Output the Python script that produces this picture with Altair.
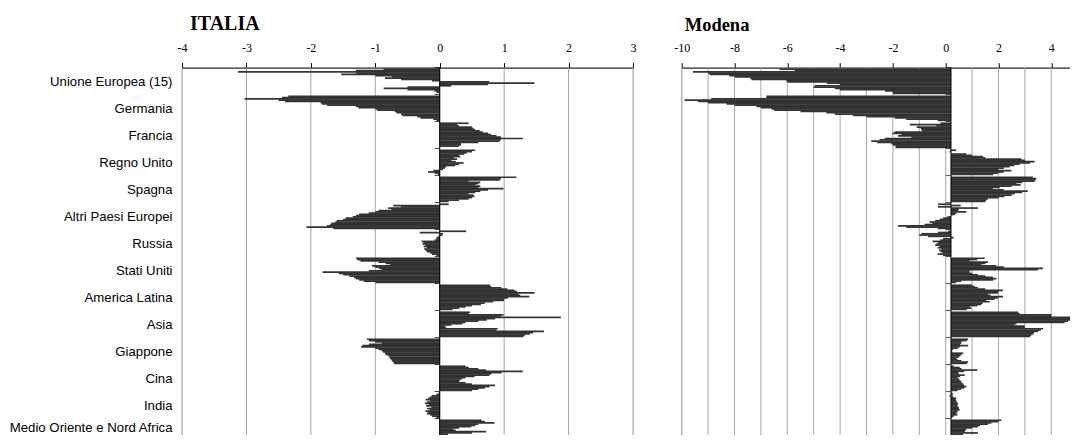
import altair as alt
import pandas as pd

categories = ["Unione Europea (15)", "Germania", "Francia", "Regno Unito", "Spagna",
              "Altri Paesi Europei", "Russia", "Stati Uniti", "America Latina", "Asia",
              "Giappone", "Cina", "India", "Medio Oriente e Nord Africa"]

# ITALIA
it_ue = [-0.87, -1.3, -3.13, -1.3, -1.53, -1.0, -0.74, -0.85, -0.6, -0.12, 0.77, 1.47, 0.75, 0.18, -0.5, -0.87, -0.5, -0.08, -0.05, 0.0]
it_de = [-2.35, -2.45, -3.03, -2.5, -2.4, -1.85, -1.83, -1.75, -1.3, -1.26, -1.0, -0.97, -0.7, -0.67, -0.6, -0.58, -0.35, -0.3, -0.1, -0.05]
it_fr = [0.45, 0.27, 0.3, 0.5, 0.52, 0.55, 0.62, 0.67, 0.75, 0.8, 0.88, 0.95, 1.29, 0.95, 0.93, 0.6, 0.33, 0.33, 0.3, 0.0]
it_uk = [0.55, 0.5, 0.42, 0.38, 0.3, 0.32, 0.22, 0.27, 0.18, 0.25, 0.37, 0.3, 0.24, 0.1, 0.08, 0.05, -0.1, -0.18, -0.08, -0.03]
it_es = [1.19, 0.95, 0.93, 0.45, 0.63, 0.6, 0.55, 0.63, 0.6, 0.99, 0.75, 0.63, 0.55, 0.45, 0.52, 0.54, 0.5, 0.45, 0.3, 0.14]
it_altri = [0.14, -0.72, -0.6, -0.8, -0.75, -0.95, -1.0, -1.1, -1.25, -1.3, -1.35, -1.46, -1.5, -1.6, -1.62, -1.68, -1.7, -1.75, -2.07, -1.65]
it_ru = [0.41, -0.31, 0.05, 0.04, -0.02, -0.05, -0.05, -0.08, -0.28, -0.25, -0.27, -0.22, -0.25, -0.2, -0.24, -0.22, -0.2, -0.15, -0.12, -0.05]
it_us = [-1.3, -1.28, -1.23, -0.95, -0.84, -0.77, -1.05, -1.0, -0.94, -0.9, -1.1, -1.82, -1.57, -1.5, -1.4, -1.33, -1.3, -1.25, -1.18, -1.0]
it_latam = [0.78, 0.8, 0.96, 1.05, 1.16, 1.2, 1.47, 1.22, 1.25, 1.39, 1.06, 1.0, 1.0, 0.83, 0.7, 0.64, 0.5, 0.4, 0.3, 0.2]
it_asia = [0.47, 0.45, 0.99, 0.95, 1.88, 0.86, 0.73, 0.6, 0.4, 0.35, 0.18, 0.08, 0.1, 0.9, 0.88, 1.62, 1.45, 1.4, 1.32, 1.3]
it_jp = [-1.13, -1.1, -1.0, -0.9, -1.1, -1.2, -1.22, -1.0, -0.95, -0.9, -0.88, -0.85, -0.84, -0.8, -0.78, -0.77, -0.75, -0.74, -0.72, -0.71]
it_cn = [0.4, 0.45, 0.6, 0.72, 1.29, 0.96, 0.8, 0.77, 0.54, 0.4, 0.34, 0.31, 0.3, 0.4, 0.5, 0.86, 0.77, 0.7, 0.6, 0.5]
it_in = [-0.02, -0.05, -0.12, -0.15, -0.18, -0.22, -0.15, -0.2, -0.23, -0.17, -0.21, -0.13, -0.2, -0.16, -0.22, -0.18, -0.2, -0.15, -0.12, -0.05]
it_me = [0.65, 0.7, 0.85, 0.6, 0.55, 0.49, 0.3, 0.21, 0.25, 0.72, 0.5, 0.13, 0.08, 0.2, 0.26, 0.2, 0.15, 0.1, 0.1, 0.05]

# Modena
mo_ue = [-6.3, -5.72, -9.57, -9.0, -8.94, -8.2, -7.99, -7.4, -7.36, -6.04, -6.0, -4.5, -4.0, -4.96, -5.0, -4.2, -4.0, -2.3, -2.0, -2.0]
mo_de = [-6.79, -6.8, -8.88, -9.89, -9.38, -9.0, -8.3, -8.0, -7.17, -7.0, -6.6, -6.5, -5.5, -4.52, -4.2, -3.51, -3.0, -1.93, -1.5, -0.3]
mo_fr = [-0.2, -1.36, -0.35, -1.1, -0.95, -0.92, -0.9, -1.93, -2.02, -1.68, -1.8, -1.3, -2.31, -2.5, -2.82, -2.6, -2.06, -2.0, -1.9, -1.9]
mo_uk = [0.4, 0.15, 0.2, 0.78, 1.0, 1.41, 1.5, 2.87, 3.0, 3.37, 3.2, 2.8, 2.6, 2.42, 2.2, 1.98, 2.49, 2.2, 1.98, 1.8]
mo_es = [3.3, 3.43, 3.4, 3.37, 2.9, 2.68, 2.84, 2.5, 2.05, 1.79, 2.2, 3.11, 2.9, 2.61, 2.5, 2.23, 2.0, 1.6, 1.54, 1.5]
mo_altri = [-0.29, 0.57, -0.3, 1.22, 0.5, 0.47, 0.78, 0.4, 0.35, 0.2, 0.06, -0.1, -0.23, -0.4, -0.61, -0.5, -0.8, -1.81, -1.49, -0.3]
mo_ru = [0.1, -0.3, -0.92, -1.0, -0.67, 0.3, -0.1, -0.2, -0.5, -0.29, -0.35, -0.4, -0.23, -0.3, -0.16, -0.25, -0.2, -0.12, -0.3, -0.1]
mo_us = [1.48, 1.2, 0.91, 1.6, 1.5, 1.35, 1.92, 2.2, 3.69, 3.5, 0.91, 0.9, 1.0, 1.22, 1.5, 1.79, 1.92, 1.8, 0.59, 0.4]
mo_latam = [1.0, 1.1, 1.22, 1.5, 2.17, 2.0, 1.98, 1.6, 1.7, 2.17, 1.98, 1.85, 1.54, 1.67, 1.4, 1.35, 1.2, 0.91, 0.97, 0.8]
mo_asia = [2.74, 2.8, 4.0, 4.0, 4.95, 4.9, 4.76, 4.63, 4.5, 2.68, 2.6, 2.99, 3.0, 3.69, 3.6, 3.5, 3.35, 3.31, 3.24, 3.2]
mo_jp = [0.85, 0.8, 0.6, 0.59, 0.55, 0.85, 0.53, 0.45, 0.28, 0.22, 0.25, 0.66, 0.6, 0.55, 0.5, 0.4, 0.45, 0.59, 0.85, 0.8]
mo_cn = [0.3, 0.53, 0.6, 1.2, 0.7, 0.47, 0.5, 0.72, 0.55, 0.44, 0.5, 0.53, 0.59, 0.6, 0.66, 0.7, 0.78, 0.7, 0.59, 0.45]
mo_in = [0.25, 0.28, 0.15, 0.3, 0.4, 0.38, 0.4, 0.42, 0.47, 0.45, 0.44, 0.49, 0.5, 0.53, 0.45, 0.44, 0.4, 0.44, 0.3, 0.25]
mo_me = [2.11, 2.0, 1.73, 1.6, 1.3, 1.22, 1.0, 0.78, 0.75, 0.72, 1.22, 0.66, 0.7, 0.72, 0.66, 0.6, 0.5, 0.5, 0.45, 0.4]

italia_series = [it_ue, it_de, it_fr, it_uk, it_es, it_altri, it_ru, it_us,
                 it_latam, it_asia, it_jp, it_cn, it_in, it_me]
modena_series = [mo_ue, mo_de, mo_fr, mo_uk, mo_es, mo_altri, mo_ru, mo_us,
                 mo_latam, mo_asia, mo_jp, mo_cn, mo_in, mo_me]

italia_ticks = [-4, -3, -2, -1, 0, 1, 2, 3]
italia_grid = [-4, -3, -2, -1, 0, 1, 2, 3]
modena_ticks = [-10, -8, -6, -4, -2, 0, 2, 4]
modena_grid = [-10, -9, -8, -7, -6, -5, -4, -3, -2, -1, 0, 1, 2, 3, 4, 5, 6]
boundaries = list(range(0, 15))
N = 20


def frame(series):
    rows = []
    for k, vals in enumerate(series):
        for i, v in enumerate(vals):
            rows.append({"k": k, "i": i, "v": v})
    return pd.DataFrame(rows)


label_expr = "[" + ",".join("'" + c + "'" for c in categories) + "][floor(datum.value)]"


def panel(series, title, title_size, title_dx, domain, ticks, grid, base, width, show_labels):
    xs = alt.Scale(domain=domain, nice=False, zero=False)
    ys = alt.Scale(domain=[0, 14], reverse=True, nice=False, zero=False)
    xaxis = alt.Axis(orient="top", values=ticks, grid=False, labelFlush=False,
                     labelExpr="'' + datum.value",
                     labelFont="Liberation Serif", labelFontSize=12, labelColor="black",
                     tickColor="black", tickSize=5, domainColor="black", labelPadding=8,
                     title=None, labelOverlap=False)
    if show_labels:
        yaxis = alt.Axis(orient="left", values=[k + 0.5 for k in range(len(categories))],
                         labelExpr=label_expr, domain=False, ticks=False, grid=False,
                         labelFont="Liberation Sans", labelFontSize=13.2, labelColor="black",
                         labelPadding=10, title=None, labelOverlap=False,
                         labelOffset={"condition": {"test": "datum.value > 13", "value": -4.5},
                                      "value": 0})
    else:
        yaxis = None

    grid_layer = alt.Chart(pd.DataFrame({"g": grid})).mark_rule(
        color="#a6a6a6", strokeWidth=1).encode(
        x=alt.X("g:Q", scale=xs, axis=xaxis))

    step = 0.94 / N
    bars = alt.Chart(frame(series)).transform_calculate(
        y0=f"datum.k + 0.03 + datum.i * {step}",
        y1=f"datum.k + 0.03 + (datum.i + 1.35) * {step}",
    ).mark_rect(color="#333333").encode(
        x=alt.X("v:Q", scale=xs, axis=xaxis),
        x2=alt.datum(base),
        y=alt.Y("y0:Q", scale=ys, axis=yaxis),
        y2="y1:Q",
    )

    zero = alt.Chart(pd.DataFrame({"b": [base]})).mark_rule(
        color="black", strokeWidth=1).encode(
        x=alt.X("b:Q", scale=xs, axis=xaxis))

    cat_ticks = alt.Chart(pd.DataFrame({"y": boundaries, "b": [base] * len(boundaries)})).mark_tick(
        orient="horizontal", size=5, thickness=1, color="black", xOffset=-2.5).encode(
        x=alt.X("b:Q", scale=xs, axis=xaxis),
        y=alt.Y("y:Q", scale=ys, axis=yaxis),
    )

    return alt.layer(grid_layer, bars, zero, cat_ticks).properties(
        width=width, height=378,
        title=alt.TitleParams(title, anchor="start", frame="group", font="Liberation Serif",
                              fontSize=title_size, fontWeight="bold", color="black",
                              dx=title_dx, offset=7.5),
    )


italia = panel(italia_series, "ITALIA", 20, 8, [-4, 3], italia_ticks, italia_grid, 0, 451, True)
modena = panel(modena_series, "Modena", 18.5, 3, [-10, 6], modena_ticks, modena_grid, 0.2, 422.4, False)

chart = alt.hconcat(italia, modena, spacing=48.7, bounds="flush").properties(
    padding={"left": 0, "top": 5.6, "right": -36, "bottom": -12}
).configure_view(stroke=None).configure(background="white")

chart.save("out.html", embed_options={"renderer": "svg", "actions": False})
